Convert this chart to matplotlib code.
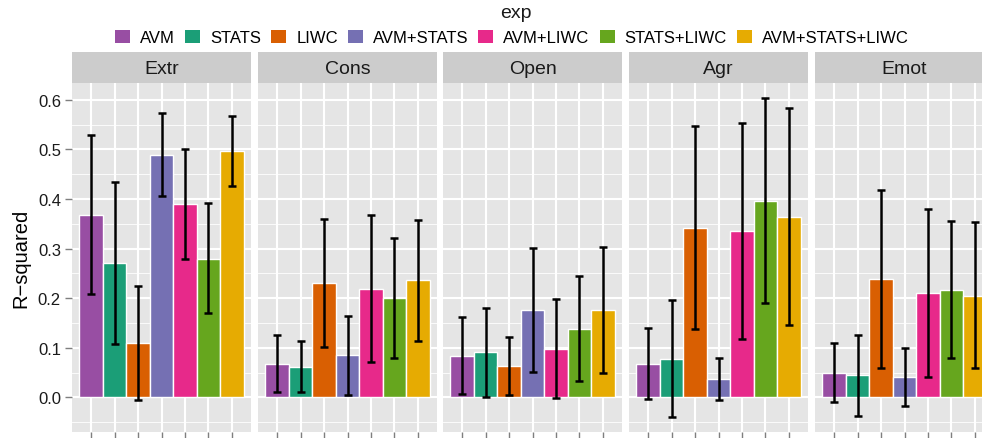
import numpy as np
import matplotlib
matplotlib.use("Agg")
import matplotlib.pyplot as plt
from matplotlib.patches import Patch

plt.rcParams['font.family'] = ['Liberation Sans', 'DejaVu Sans']

# data
traits = ["Extr", "Cons", "Open", "Agr", "Emot"]
exps = ["AVM", "STATS", "LIWC", "AVM+STATS", "AVM+LIWC", "STATS+LIWC", "AVM+STATS+LIWC"]
colors = ["#984EA3", "#1B9E77", "#D95F02", "#7570B3", "#E7298A", "#66A61E", "#E6AB02"]

r2 = {
    "Extr": [0.368, 0.271, 0.110, 0.489, 0.390, 0.279, 0.497],
    "Cons": [0.067, 0.061, 0.231, 0.085, 0.219, 0.200, 0.237],
    "Open": [0.083, 0.091, 0.063, 0.176, 0.097, 0.138, 0.176],
    "Agr": [0.067, 0.077, 0.342, 0.037, 0.336, 0.396, 0.364],
    "Emot": [0.049, 0.045, 0.239, 0.041, 0.211, 0.217, 0.205],
}
err_lo = {
    "Extr": [0.208, 0.108, -0.005, 0.406, 0.279, 0.170, 0.427],
    "Cons": [0.011, 0.010, 0.102, 0.005, 0.071, 0.080, 0.114],
    "Open": [0.007, 0.001, 0.005, 0.052, -0.002, 0.033, 0.050],
    "Agr": [-0.003, -0.040, 0.137, -0.005, 0.118, 0.190, 0.145],
    "Emot": [-0.009, -0.037, 0.060, -0.018, 0.040, 0.080, 0.060],
}
err_hi = {
    "Extr": [0.529, 0.434, 0.225, 0.574, 0.500, 0.391, 0.568],
    "Cons": [0.125, 0.114, 0.360, 0.165, 0.368, 0.322, 0.357],
    "Open": [0.161, 0.181, 0.121, 0.302, 0.199, 0.244, 0.304],
    "Agr": [0.139, 0.197, 0.548, 0.079, 0.553, 0.603, 0.584],
    "Emot": [0.109, 0.126, 0.419, 0.100, 0.380, 0.355, 0.353],
}

W, H = 982, 439
fig = plt.figure(figsize=(W / 100, H / 100), dpi=100)

panel_left = [72, 258, 443, 629, 815]
panel_w = 179
strip_top, strip_bot, panel_bot = 53, 84, 433

x = np.arange(1, len(exps) + 1)
for i, t in enumerate(traits):
    left = panel_left[i]
    ax = fig.add_axes([left / W, (H - panel_bot) / H, panel_w / W, (panel_bot - strip_bot) / H])
    ax.set_facecolor("#E5E5E5")
    vals = np.array(r2[t])
    lo = np.array(err_lo[t])
    hi = np.array(err_hi[t])
    ax.bar(x, vals, width=1.0, color=colors, edgecolor="white", linewidth=1.0, zorder=2)
    ax.errorbar(x, vals, yerr=[vals - lo, hi - vals], fmt="none", ecolor="black",
                elinewidth=1.8, capsize=2.8, capthick=1.8, zorder=3)
    ax.set_xlim(0.19, 7.81)
    ax.set_ylim(-0.070, 0.634)
    ax.set_yticks(np.arange(0, 0.61, 0.1))
    ax.set_yticks(np.arange(-0.05, 0.64, 0.1), minor=True)
    ax.set_xticks(x)
    ax.grid(which="major", color="white", linewidth=1.5, zorder=0)
    ax.grid(which="minor", axis="y", color="white", linewidth=0.6, zorder=0)
    ax.set_axisbelow(True)
    for s in ax.spines.values():
        s.set_visible(False)
    ax.tick_params(axis="x", which="both", length=5, width=1, color="#7F7F7F", labelbottom=False)
    ax.tick_params(axis="y", which="minor", length=0)
    if i == 0:
        ax.tick_params(axis="y", which="major", length=5, width=1, color="#7F7F7F",
                       labelsize=12, labelcolor="#1A1A1A", pad=3)
        ax.set_yticklabels(["%.1f" % v for v in np.arange(0, 0.61, 0.1)])
        ax.set_ylabel("R\u2212squared", fontsize=14.5, labelpad=5)
    else:
        ax.tick_params(axis="y", which="major", length=0, labelleft=False)

    # facet strip
    sax = fig.add_axes([left / W, (H - strip_bot) / H, panel_w / W, (strip_bot - strip_top) / H])
    sax.set_facecolor("#CCCCCC")
    sax.set_xticks([])
    sax.set_yticks([])
    for s in sax.spines.values():
        s.set_visible(False)
    sax.text(0.5, 0.47, t, ha="center", va="center", fontsize=14, color="#1A1A1A",
             transform=sax.transAxes)

handles = [Patch(facecolor=c, edgecolor="none") for c in colors]
leg = fig.legend(handles, exps, loc="upper center", bbox_to_anchor=(512 / W, 1 - 18 / H), ncol=7,
                 fontsize=12, frameon=True,
                 handlelength=0.9, handleheight=0.9, handletextpad=0.6, columnspacing=0.6,
                 borderpad=0.25, labelspacing=0.2)
leg.get_frame().set_facecolor("white")
leg.get_frame().set_edgecolor("white")
leg.get_frame().set_boxstyle("square", pad=0)
leg.set_zorder(10)
fig.text(516 / W, 1 - 14 / H, "exp", ha="center", va="center", fontsize=14, color="#1A1A1A")

fig.savefig("out.png", dpi=100, facecolor="white")
